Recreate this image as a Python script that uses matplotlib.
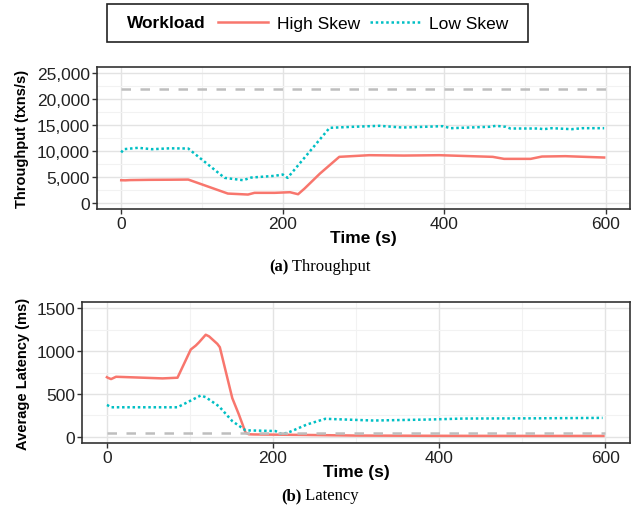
import matplotlib
matplotlib.use('Agg')
import matplotlib.pyplot as plt
from matplotlib.lines import Line2D
from matplotlib.patches import Rectangle
from matplotlib.offsetbox import TextArea, HPacker, AnnotationBbox
from matplotlib.ticker import FuncFormatter, MultipleLocator

plt.rcParams['font.family'] = ['Liberation Sans', 'DejaVu Sans']

RED = '#F8766D'
CYAN = '#00BFC4'
DASH = '#BEBEBE'

# throughput (txns/s)
tp_high_t = [0, 5, 11, 35, 60, 83, 132, 157, 165, 190, 209, 219, 227, 246, 270, 307, 350, 394, 460, 474, 507, 521, 550, 598]
tp_high_v = [4320, 4300, 4350, 4400, 4420, 4450, 1740, 1550, 1880, 1880, 2000, 1610, 2710, 5600, 8850, 9170, 9100, 9170, 8850, 8460, 8460, 8910, 8980, 8720]
tp_low_t = [0, 3, 21, 38, 60, 83, 87, 128, 141, 151, 161, 190, 200, 206, 258, 287, 320, 348, 398, 408, 456, 464, 476, 482, 517, 523, 533, 558, 571, 598]
tp_low_v = [9690, 10330, 10600, 10330, 10500, 10465, 9950, 4780, 4520, 4330, 4840, 5170, 5430, 4780, 14470, 14670, 14860, 14530, 14790, 14400, 14670, 14860, 14670, 14340, 14340, 14210, 14400, 14210, 14400, 14400]
tp_target = 22000

# average latency (ms)
lat_high_t = [0, 1, 5, 11, 35, 67, 85, 101, 107, 111, 119, 123, 133, 136, 151, 159, 167, 171, 177, 241, 300, 400, 500, 598]
lat_high_v = [695, 689, 673, 700, 692, 681, 689, 1019, 1065, 1104, 1192, 1173, 1085, 1046, 450, 257, 46, 27, 25, 19, 12, 9, 8, 8]
lat_low_t = [0, 1, 5, 27, 85, 113, 119, 135, 151, 167, 203, 211, 221, 241, 263, 321, 389, 429, 520, 597]
lat_low_v = [370, 366, 343, 343, 343, 481, 461, 354, 181, 73, 65, 27, 58, 142, 208, 188, 200, 211, 214, 219]
lat_target = 38

fig = plt.figure(figsize=(6.38, 5.10), dpi=100)
W, H = 638.0, 510.0


def box(l, t, r, b):
    return [l / W, 1 - b / H, (r - l) / W, (b - t) / H]


def style(ax, ymaj, ymin):
    ax.set_xlim(-30, 630)
    ax.xaxis.set_major_locator(MultipleLocator(200))
    ax.xaxis.set_minor_locator(MultipleLocator(100))
    ax.yaxis.set_major_locator(MultipleLocator(ymaj))
    ax.yaxis.set_minor_locator(MultipleLocator(ymin))
    ax.grid(which='major', color='#E3E3E3', lw=1.0)
    ax.grid(which='minor', color='#F2F2F2', lw=0.8)
    ax.set_axisbelow(True)
    for s in ax.spines.values():
        s.set_color('#333333')
        s.set_linewidth(1.2)
    ax.tick_params(which='major', length=3.5, width=1.0, color='#333333',
                   labelsize=12.5, labelcolor='#222222', pad=1.5)
    ax.tick_params(which='minor', length=0)
    ax.set_xlabel('Time (s)', fontsize=12.5, fontweight='bold', labelpad=-1)


# (a) throughput
ax1 = fig.add_axes(box(97, 68, 630, 210))
ax1.plot(tp_high_t, tp_high_v, color=RED, lw=1.8)
ax1.plot(tp_low_t, tp_low_v, color=CYAN, lw=1.8, ls=(0, (1, 1.1)))
ax1.axhline(tp_target, xmin=30 / 660, xmax=630 / 660, color=DASH, lw=1.8, ls=(0, (3.8, 3.8)))
ax1.set_ylim(-1250, 26250)
style(ax1, 5000, 2500)
ax1.yaxis.set_major_formatter(FuncFormatter(lambda v, p: f'{int(v):,}'))
fig.text(22 / W, 1 - 139 / H, 'Throughput (txns/s)', rotation=90, ha='center', va='center',
         fontsize=10.5, fontweight='bold')

# (b) latency
ax2 = fig.add_axes(box(82, 303, 630, 444))
ax2.plot(lat_high_t, lat_high_v, color=RED, lw=1.8)
ax2.plot(lat_low_t, lat_low_v, color=CYAN, lw=1.8, ls=(0, (1, 1.1)))
ax2.axhline(lat_target, xmin=30 / 660, xmax=630 / 660, color=DASH, lw=1.8, ls=(0, (3.8, 3.8)))
ax2.set_ylim(-75, 1575)
style(ax2, 500, 250)
fig.text(23 / W, 1 - 374 / H, 'Average Latency (ms)', rotation=90, ha='center', va='center',
         fontsize=10.5, fontweight='bold')

# legend box on top
fig.patches.append(Rectangle((107 / W, 1 - 43 / H), 421 / W, 38 / H, transform=fig.transFigure,
                             fill=False, edgecolor='#222222', lw=1.2))
fig.text(127 / W, 1 - 24 / H, 'Workload', ha='left', va='center', fontsize=12.5, fontweight='bold')
handles = [Line2D([], [], color=RED, lw=1.8),
           Line2D([], [], color=CYAN, lw=1.8, ls=(0, (1, 1.1)))]
fig.legend(handles, ['High Skew', 'Low Skew'], loc='center left', bbox_to_anchor=(218 / W, 1 - 24 / H),
           ncol=2, frameon=False, fontsize=12.5, handlelength=2.9, handletextpad=0.5,
           columnspacing=0.55, borderpad=0, borderaxespad=0)

# sub captions
for lab, name, y in [('(a)', ' Throughput', 267), ('(b)', ' Latency', 496)]:
    pk = HPacker(children=[TextArea(lab, textprops=dict(family='Liberation Serif', fontweight='bold', fontsize=12)),
                           TextArea(name, textprops=dict(family='Liberation Serif', fontsize=12))],
                 align='baseline', pad=0, sep=0)
    ab = AnnotationBbox(pk, (320 / W, 1 - y / H), xycoords='figure fraction', frameon=False,
                        box_alignment=(0.5, 0.5))
    fig.add_artist(ab)

fig.savefig('out.png', dpi=100)
